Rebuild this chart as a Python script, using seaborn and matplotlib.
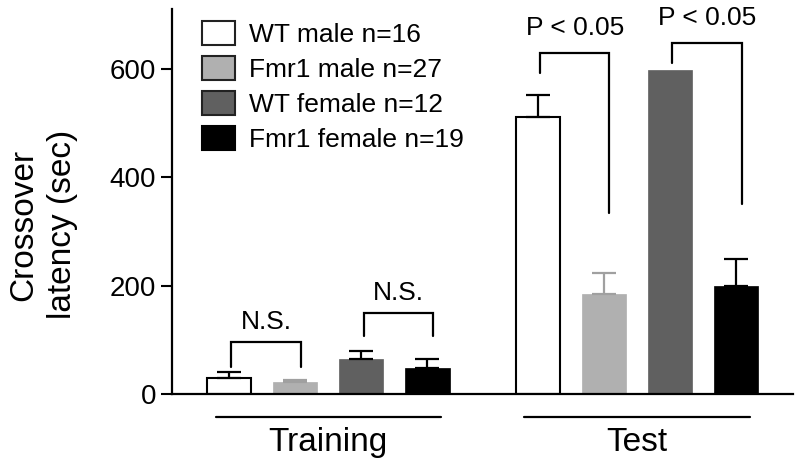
import matplotlib
matplotlib.use('Agg')
import matplotlib.pyplot as plt
import matplotlib.transforms as mtransforms
from matplotlib.patches import Patch
import pandas as pd
import seaborn as sns

# Data
phases = ['Training', 'Test']
genotypes = ['WT male n=16', 'Fmr1 male n=27', 'WT female n=12', 'Fmr1 female n=19']
training_mean = [30, 22, 65, 48]
training_sem = [11, 3, 14, 17]
test_mean = [511, 185, 598, 199]
test_sem = [41, 38, 0, 50]

bar_colors = ['#ffffff', '#b0b0b0', '#606060', '#000000']
err_colors = ['#000000', '#a0a0a0', '#000000', '#000000']

# significance brackets: (phase index, left genotype, right genotype, label, left foot, top, right foot)
brackets = [
    (0, 0, 1, 'N.S.', 50, 96, 50),
    (0, 2, 3, 'N.S.', 107, 150, 107),
    (1, 0, 1, 'P < 0.05', 593, 630, 334),
    (1, 2, 3, 'P < 0.05', 611, 648, 351),
]

df = pd.DataFrame({
    'phase': [p for p in phases for _ in genotypes],
    'genotype': genotypes * 2,
    'latency': training_mean + test_mean,
    'sem': training_sem + test_sem,
})

sns.set_style('ticks')
plt.rcParams['font.family'] = ['Liberation Sans', 'DejaVu Sans']
plt.rcParams['text.color'] = 'black'
plt.rcParams['axes.labelcolor'] = 'black'

fig = plt.figure(figsize=(8, 4.67), dpi=100)
ax = fig.add_axes([0.215, 0.1563, 0.776, 0.8244])

sns.barplot(data=df, x='phase', y='latency', hue='genotype', order=phases,
            hue_order=genotypes, palette=bar_colors, width=0.857, gap=0.33,
            errorbar=None, legend=False, ax=ax)
bar_conts = list(ax.containers)

# style bars and add one-sided error bars
for i, cont in enumerate(bar_conts):
    for j, bar in enumerate(cont):
        bar.set_facecolor(bar_colors[i])
        if i == 0:
            bar.set_edgecolor('black')
            bar.set_linewidth(1.5)
        else:
            bar.set_edgecolor(bar_colors[i])
            bar.set_linewidth(0.5)
        sub = df[(df['phase'] == phases[j]) & (df['genotype'] == genotypes[i])]
        err = sub['sem'].iloc[0]
        if err > 0:
            cx = bar.get_x() + bar.get_width() / 2
            ax.errorbar(cx, sub['latency'].iloc[0], yerr=[[0], [err]], fmt='none',
                        ecolor=err_colors[i], elinewidth=1.6, capsize=8.5,
                        capthick=1.6, zorder=1)

ax.set_xlim(-0.506, 1.505)
ax.set_ylim(0, 711)
ax.set_yticks([0, 200, 400, 600])
ax.tick_params(axis='y', labelsize=20, length=8, width=1.5, colors='black')
ax.tick_params(axis='x', length=0, labelbottom=False)
ax.set_xlabel('')
ax.set_ylabel('Crossover\nlatency (sec)', fontsize=24, linespacing=1.3)
ax.yaxis.set_label_coords(-0.152, 0.44)
sns.despine(ax=ax)
for s in ['left', 'bottom']:
    ax.spines[s].set_linewidth(1.6)
    ax.spines[s].set_color('black')

# brackets
for ph, g1, g2, label, yl, ytop, yr in brackets:
    b1 = bar_conts[g1][ph]
    b2 = bar_conts[g2][ph]
    x1 = b1.get_x() + b1.get_width() / 2 + 0.008
    x2 = b2.get_x() + b2.get_width() / 2 + 0.018
    ax.plot([x1, x1, x2, x2], [yl, ytop, ytop, yr], color='black', lw=1.6,
            solid_joinstyle='miter', clip_on=False)
    gap = 14 if label == 'N.S.' else 24
    ax.text((x1 + x2) / 2, ytop + gap, label, ha='center', va='bottom',
            fontsize=19)

# group underlines and labels
trans = mtransforms.blended_transform_factory(ax.transData, ax.transAxes)
for k, ph in enumerate(phases):
    ax.plot([k - 0.365, k + 0.365], [-0.06, -0.06], color='black', lw=1.6,
            transform=trans, clip_on=False)
    ax.text(k, -0.127, ph, ha='center', va='center', fontsize=24,
            transform=trans)

handles = [Patch(facecolor=c, edgecolor='#222222' if c != '#000000' else '#000000',
                 linewidth=1.5) for c in bar_colors]
fig.legend(handles, genotypes, loc='upper left', bbox_to_anchor=(0.252, 0.955),
           frameon=False, fontsize=19, handlelength=1.25, handleheight=1.0,
           handletextpad=0.55, labelspacing=0.35, borderpad=0, borderaxespad=0)

fig.savefig('out.png', dpi=100)
